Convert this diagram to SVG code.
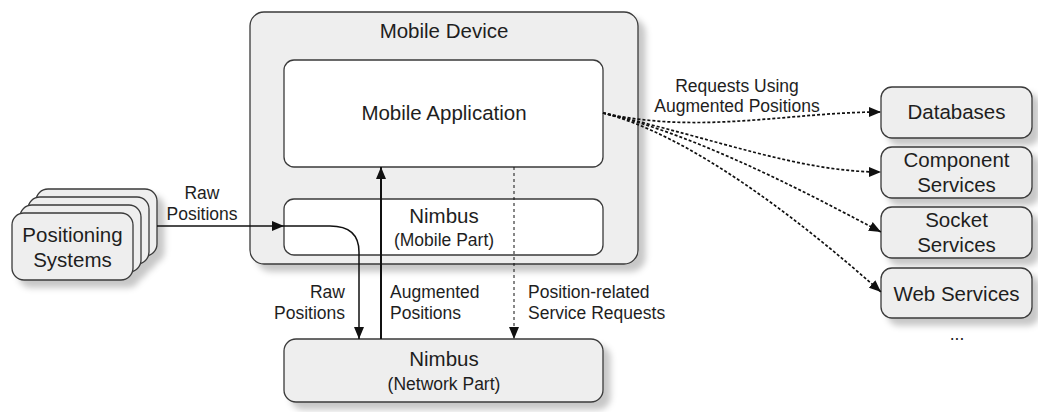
<svg xmlns="http://www.w3.org/2000/svg" width="1038" height="412" viewBox="0 0 1038 412">
<defs>
<style>
text{font-family:"Liberation Sans",Arial,sans-serif;fill:#1e1e1e;}
.t{font-size:20.5px;text-anchor:middle;}
.s{font-size:17.5px;}
.box{fill:#eeeeee;stroke:#3a3a3a;stroke-width:1.3;}
.wbox{fill:#ffffff;stroke:#3a3a3a;stroke-width:1.3;}
.ln{fill:none;stroke:#111;stroke-width:1.5;}
.dash{fill:none;stroke:#111;stroke-width:1.7;stroke-dasharray:3 2;}
</style>
<filter id="sh" x="-10%" y="-10%" width="130%" height="140%">
<feDropShadow dx="7" dy="7" stdDeviation="3" flood-color="#000" flood-opacity="0.22"/>
</filter>
<marker id="ah" viewBox="0 0 12 10" refX="12" refY="5" markerWidth="12" markerHeight="10" markerUnits="userSpaceOnUse" orient="auto">
<path d="M0,0 L12,5 L0,10 z" fill="#111"/>
</marker>
</defs>
<rect width="1038" height="412" fill="#ffffff"/>

<g id="mobile-device">
<rect class="box" x="250" y="12" width="388" height="252" rx="14" filter="url(#sh)"/>
<text class="t" x="444" y="38">Mobile Device</text>
</g>
<g id="mobile-application">
<rect class="wbox" x="284" y="60" width="319" height="107" rx="10"/>
<text class="t" x="444" y="120">Mobile Application</text>
</g>
<g id="nimbus-mobile">
<rect class="wbox" x="284" y="199" width="319" height="56" rx="10"/>
<text class="t" x="444" y="223">Nimbus</text>
<text class="s" x="444" y="246" text-anchor="middle">(Mobile Part)</text>
</g>
<g id="nimbus-network">
<rect class="box" x="284" y="339" width="319" height="63" rx="12" filter="url(#sh)"/>
<text class="t" x="444" y="366">Nimbus</text>
<text class="s" x="444" y="390" text-anchor="middle">(Network Part)</text>
</g>
<g id="positioning-systems">
<g filter="url(#sh)">
<rect class="box" x="36" y="189" width="121" height="67" rx="12"/>
<rect class="box" x="28" y="197" width="121" height="67" rx="12"/>
<rect class="box" x="20" y="205" width="121" height="67" rx="12"/>
<rect class="box" x="12" y="213" width="121" height="67" rx="12"/>
</g>
<text class="t" x="72.5" y="242">Positioning</text>
<text class="t" x="72.5" y="267">Systems</text>
</g>
<g id="databases">
<rect class="box" x="881" y="87" width="151" height="51" rx="11" filter="url(#sh)"/>
<text class="t" x="956.5" y="119">Databases</text>
</g>
<g id="component-services">
<rect class="box" x="881" y="147" width="151" height="51" rx="11" filter="url(#sh)"/>
<text class="t" x="956.5" y="167">Component</text>
<text class="t" x="956.5" y="192">Services</text>
</g>
<g id="socket-services">
<rect class="box" x="881" y="207" width="151" height="51" rx="11" filter="url(#sh)"/>
<text class="t" x="956.5" y="227">Socket</text>
<text class="t" x="956.5" y="252">Services</text>
</g>
<g id="web-services">
<rect class="box" x="881" y="268" width="151" height="50" rx="11" filter="url(#sh)"/>
<text class="t" x="956.5" y="301">Web Services</text>
</g>
<g id="more">
<text class="s" x="957" y="340" text-anchor="middle">...</text>
</g>

<g id="connectors">
<path class="ln" d="M157,226 L284,226" marker-end="url(#ah)"/>
<path class="ln" d="M284,226 L330,226 Q359,226 359,252 L359,339" marker-end="url(#ah)"/>
<path class="ln" style="stroke-width:2" d="M381,339 L381,167" marker-end="url(#ah)"/>
<path class="ln" style="stroke-width:1;stroke-dasharray:3 3" d="M514,167 L514,339" marker-end="url(#ah)"/>
<path class="dash" d="M603,113 C700,135 790,112 881,112" marker-end="url(#ah)"/>
<path class="dash" d="M603,113 C720,140 800,172 881,172" marker-end="url(#ah)"/>
<path class="dash" d="M603,113 C700,135 820,200 881,232" marker-end="url(#ah)"/>
<path class="dash" d="M603,113 C690,135 800,220 881,292" marker-end="url(#ah)"/>
<text class="s" x="202" y="199" text-anchor="middle">Raw</text>
<text class="s" x="202" y="220" text-anchor="middle">Positions</text>
<text class="s" x="345" y="298" text-anchor="end">Raw</text>
<text class="s" x="345" y="319" text-anchor="end">Positions</text>
<text class="s" x="390" y="298">Augmented</text>
<text class="s" x="390" y="319">Positions</text>
<text class="s" x="528" y="298">Position-related</text>
<text class="s" x="528" y="319">Service Requests</text>
<text class="s" x="737" y="92" text-anchor="middle">Requests Using</text>
<text class="s" x="737" y="112" text-anchor="middle">Augmented Positions</text>
</g>
</svg>
